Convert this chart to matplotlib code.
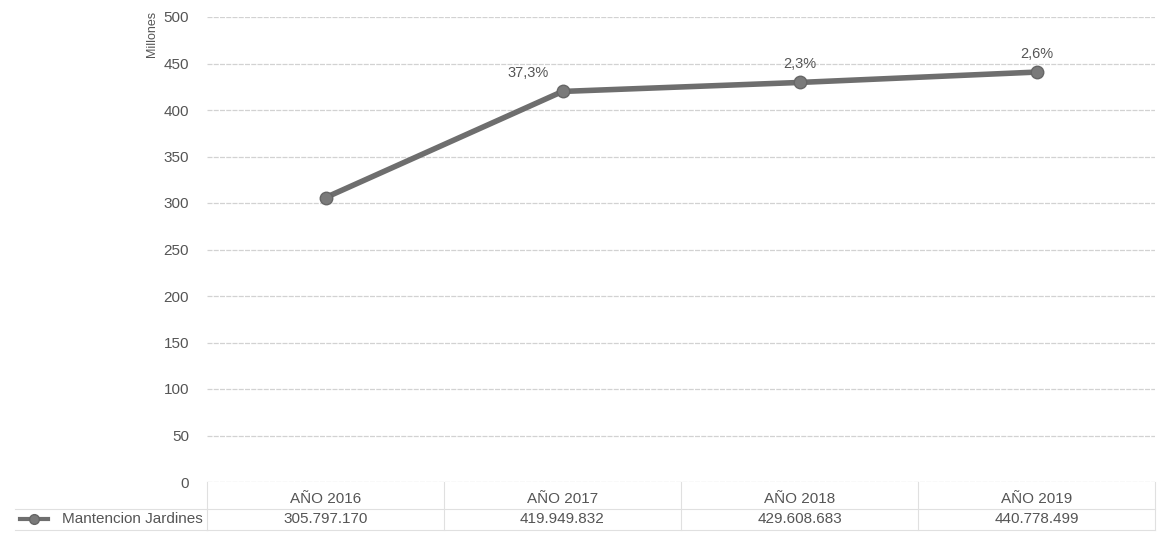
import matplotlib.pyplot as plt
from matplotlib.lines import Line2D

plt.rcParams['font.family'] = ['Liberation Sans', 'DejaVu Sans']

years = ["AÑO 2016", "AÑO 2017", "AÑO 2018", "AÑO 2019"]
values = [305797170, 419949832, 429608683, 440778499]
growth = ["", "37,3%", "2,3%", "2,6%"]
series_name = "Mantencion Jardines"

millions = [v / 1e6 for v in values]
table_text = [f"{v:,}".replace(",", ".") for v in values]

fig = plt.figure(figsize=(11.61, 5.36), dpi=100)
ax = fig.add_axes([207 / 1161, 1 - 482 / 536, 948 / 1161, 465 / 536])

line_col = "#6e6e6e"
grid_col = "#d2d2d2"
text_col = "#555555"

xs = list(range(len(years)))
ax.plot(xs, millions, color=line_col, lw=4, marker="o", ms=9,
        markerfacecolor="#7a7a7a", markeredgecolor="#666666", zorder=3)

for i, g in enumerate(growth):
    if not g:
        continue
    if i == 1:
        ax.annotate(g, (xs[i], millions[i]), xytext=(-10, 8),
                    textcoords="offset points", ha="right", va="bottom",
                    fontsize=10.5, color=text_col)
    else:
        ax.annotate(g, (xs[i], millions[i]), xytext=(0, 8),
                    textcoords="offset points", ha="center", va="bottom",
                    fontsize=10.5, color=text_col)

ax.set_xlim(-0.5, len(years) - 0.5)
ax.set_ylim(0, 500)
ax.set_yticks(range(0, 501, 50))
ax.set_xticks([])
ax.yaxis.grid(True, color=grid_col, lw=0.9, ls=(0, (4, 1)))
ax.set_axisbelow(True)
for s in ax.spines.values():
    s.set_visible(False)
ax.tick_params(axis="y", length=0, pad=13, labelsize=11, labelcolor=text_col)

# "Millones" display-unit label
fig.text(152 / 1161, 1 - 34 / 536, "Millones", rotation=90, ha="center",
         va="center", fontsize=9, color=text_col)

# data table below the plot
trans = ax.get_xaxis_transform()
for i, (y, t) in enumerate(zip(years, table_text)):
    ax.text(xs[i], -0.037, y, transform=trans, ha="center", va="center",
            fontsize=11, color=text_col, clip_on=False)
    ax.text(xs[i], -0.080, t, transform=trans, ha="center", va="center",
            fontsize=11, color=text_col, clip_on=False)

# table borders
border_col = "#e0e0e0"
for yy in [-0.058, -0.103]:
    ax.plot([-0.5, len(years) - 0.5], [yy, yy], transform=trans,
            color=border_col, lw=0.8, clip_on=False)
for yp in [509, 530]:
    fig.add_artist(Line2D([15 / 1161, 207 / 1161], [1 - yp / 536, 1 - yp / 536],
                          color=border_col, lw=0.8))
for b in range(len(years) + 1):
    ax.plot([b - 0.5, b - 0.5], [0, -0.103], transform=trans,
            color=border_col, lw=0.8, clip_on=False)

# legend key in table
fig.add_artist(Line2D([20 / 1161, 34 / 1161, 48 / 1161],
                      [1 - 519 / 536] * 3,
                      color=line_col, lw=3, marker="o", ms=7,
                      markevery=[1], markerfacecolor="#7a7a7a",
                      markeredgecolor="#666666"))
fig.text(203 / 1161, 1 - 519 / 536, series_name, ha="right", va="center",
         fontsize=11, color=text_col)

fig.savefig("out.png", dpi=100)
